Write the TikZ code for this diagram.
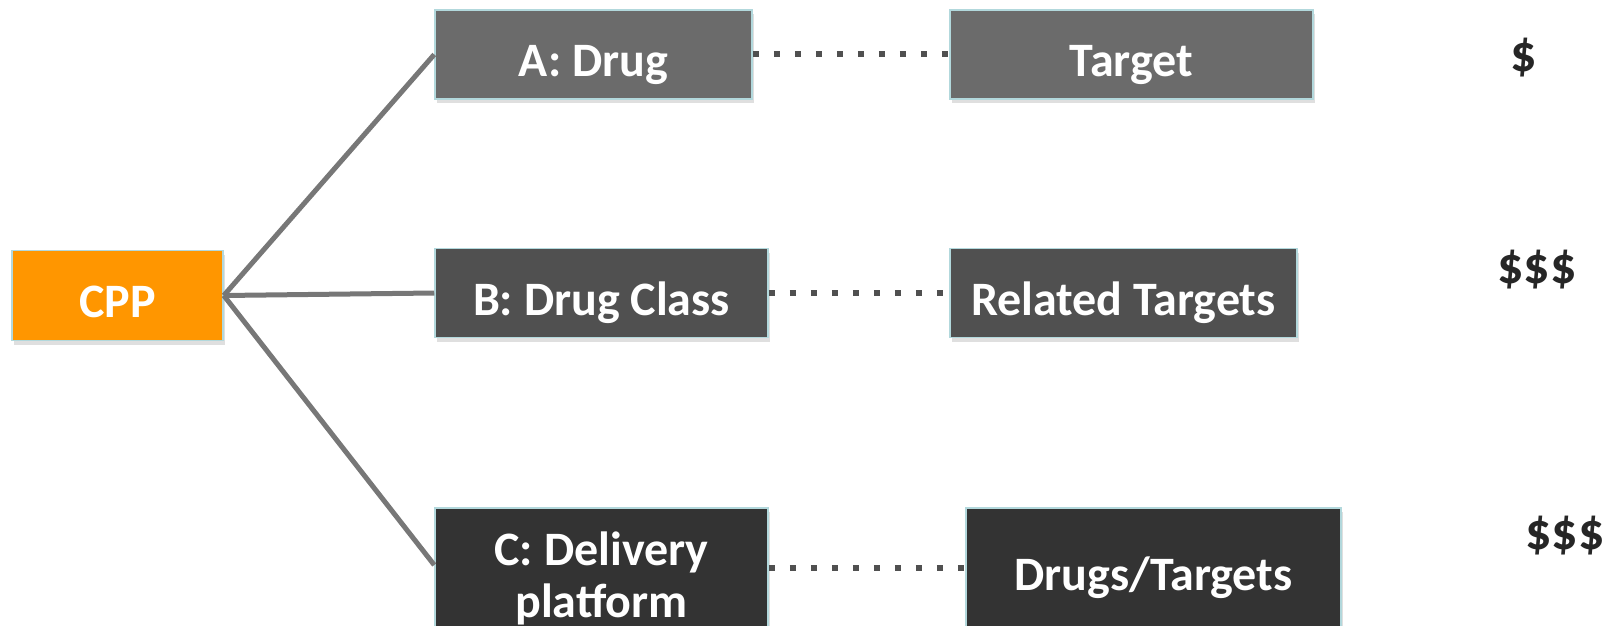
\documentclass[tikz,border=0pt]{standalone}
\usepackage{fontspec}
\setmainfont{Carlito}
\usepackage{xcolor}
\usepackage{tikz}
\usetikzlibrary{shadows}
\definecolor{cppfill}{RGB}{255,150,0}
\definecolor{fillA}{RGB}{107,107,107}
\definecolor{fillB}{RGB}{80,80,80}
\definecolor{fillC}{RGB}{51,51,51}
\definecolor{rimcol}{RGB}{178,216,220}
\definecolor{linkcol}{RGB}{119,119,119}
\definecolor{dotcol}{RGB}{80,80,80}
\definecolor{costcol}{RGB}{38,38,38}
\tikzset{
  box/.style={draw=rimcol, line width=1.5pt, text=white, inner sep=0pt,
    font=\fontsize{48}{52}\selectfont\bfseries, align=center,
    drop shadow={opacity=0.25, shadow xshift=2pt, shadow yshift=-4pt}},
  oneline/.style={text height=44pt, text depth=0pt},
  link/.style={draw=linkcol, line width=5pt},
  dotlink/.style={draw=dotcol, line width=6pt, dash pattern=on 6pt off 15pt},
  cost/.style={text=costcol, font=\fontsize{52}{56}\selectfont\bfseries, inner sep=0pt}
}
\begin{document}
\begin{tikzpicture}[x=1pt,y=1pt,yscale=-1,xscale=1]
\clip (0,0) rectangle (1618,626);
%Shape: Rectangle CPP
\node (cpp) [box, oneline, fill=cppfill, minimum width=211pt, minimum height=90pt] at (117.5,295.5) {CPP};
%Shape: Rectangle drug A
\node (drugA) [box, oneline, fill=fillA, minimum width=317pt, minimum height=89pt] at (593.5,54.5) {A: Drug};
%Shape: Rectangle target A
\node (targetA) [box, oneline, fill=fillA, minimum width=363pt, minimum height=89pt] at (1131.5,54.5) {Target};
%Shape: Rectangle drug B
\node (drugB) [box, oneline, fill=fillB, minimum width=333pt, minimum height=89pt] at (601.5,293) {B: Drug Class};
%Shape: Rectangle target B
\node (targetB) [box, oneline, fill=fillB, minimum width=347pt, minimum height=89pt] at (1123.5,293) {Related Targets};
%Shape: Rectangle drug C
\node (drugC) [box, fill=fillC, minimum width=333pt, minimum height=140pt] at (601.5,578) {C: Delivery\\platform};
%Shape: Rectangle target C
\node (targetC) [box, fill=fillC, minimum width=375pt, minimum height=140pt] at (1153.5,578) {Drugs/Targets};
%Straight Lines
\draw [link] (cpp.east) -- (drugA.west);
\draw [link] (cpp.east) -- (drugB.west);
\draw [link] (cpp.east) -- ([yshift=-13pt]drugC.west);
%Dotted Lines
\draw [dotlink] (drugA.east) -- (targetA.west);
\draw [dotlink] (drugB.east) -- (targetB.west);
\draw [dotlink] ([yshift=-10pt]drugC.east) -- ([yshift=-10pt]targetC.west);
% Text Node
\node (costA) [cost] at (1524,58) {\$};
% Text Node
\node (costB) [cost] at (1537,270) {\$\$\$};
% Text Node
\node (costC) [cost] at (1565,536) {\$\$\$};
\end{tikzpicture}
\end{document}
